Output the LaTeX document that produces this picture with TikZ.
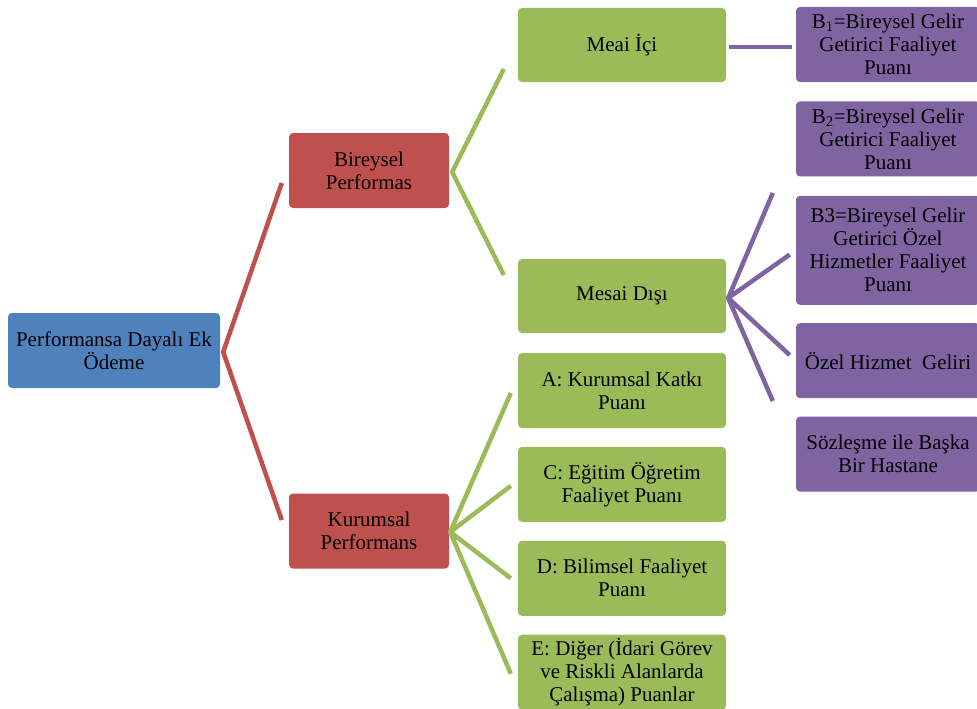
\documentclass[tikz,border=0pt]{standalone}
\usepackage{fontspec}
\setmainfont{Liberation Serif}
\usepackage{tikz}
\usetikzlibrary{calc}
\usetikzlibrary{positioning}

\definecolor{rootblue}{HTML}{4F81BD}
\definecolor{midred}{HTML}{C0504D}
\definecolor{leafgreen}{HTML}{9BBB59}
\definecolor{subpurple}{HTML}{8064A2}

\begin{document}
\begin{tikzpicture}[x=1pt, y=-1pt,
    box/.style={rectangle, rounded corners=4pt, inner sep=0pt, align=center, font=\fontsize{21}{23}\selectfont},
    rootbox/.style={box, fill=rootblue, minimum width=212pt, minimum height=75pt},
    midbox/.style={box, fill=midred, minimum width=160pt, minimum height=75pt},
    leafbox/.style={box, fill=leafgreen, minimum width=208pt, minimum height=75pt},
    subbox/.style={box, fill=subpurple, minimum width=184pt, minimum height=75pt},
    link/.style={line width=4.5pt, line join=round}]
    \useasboundingbox (0,0) rectangle (977,709);

    \node [rootbox] (root) at (114, 350.5) {Performansa Dayalı Ek\\Ödeme};
    \node [midbox] (bire) at (369, 170.5) {Bireysel\\Performas};
    \node [midbox] (kuru) at (369, 531) {Kurumsal\\Performans};

    \node [leafbox, minimum height=74pt] (meai) at (622, 45) {Meai İçi};
    \node [leafbox, minimum height=74pt] (mesai) at (622, 296) {Mesai Dışı};
    \node [leafbox] (ka) at (622, 390.5) {A: Kurumsal Katkı\\Puanı};
    \node [leafbox, below=18.5pt of ka] (kc) {C: Eğitim Öğretim\\Faaliyet Puanı};
    \node [leafbox, below=18.5pt of kc] (kd) {D: Bilimsel Faaliyet\\Puanı};
    \node [leafbox, below=18.5pt of kd] (ke) {E: Diğer (İdari Görev\\ve Riskli Alanlarda\\Çalışma) Puanlar};

    \node [subbox] (b1) at (888, 44.5) {B\textsubscript{1}=Bireysel Gelir\\Getirici Faaliyet\\Puanı};
    \node [subbox, below=19pt of b1] (b2) {B\textsubscript{2}=Bireysel Gelir\\Getirici Faaliyet\\Puanı};
    \node [subbox, below=19pt of b2, minimum height=109pt] (b3) {B3=Bireysel Gelir\\Getirici Özel\\Hizmetler Faaliyet\\Puanı};
    \node [subbox, below=18pt of b3] (oz) {Özel Hizmet\ \ Geliri};
    \node [subbox, below=18pt of oz] (soz) {Sözleşme ile Başka\\Bir Hastane};

    \coordinate (roothub) at ([xshift=3pt, yshift=-1.5pt]root.east);
    \coordinate (birehub) at ([xshift=3pt, yshift=-1.5pt]bire.east);
    \coordinate (kuruhub) at ([xshift=1pt, yshift=-1pt]kuru.east);
    \coordinate (mesaihub) at ([xshift=2pt, yshift=-2pt]mesai.east);

    \draw [link, midred] ([xshift=-7pt, yshift=-12.5pt]bire.west) -- (roothub) -- ([xshift=-7pt, yshift=11pt]kuru.west);
    \draw [link, leafgreen] ([xshift=-14pt, yshift=-24pt]meai.west) -- (birehub) -- ([xshift=-14pt, yshift=21pt]mesai.west);
    \draw [link, leafgreen] ([xshift=-7pt, yshift=-2.5pt]ka.west) -- (kuruhub) -- ([xshift=-7pt, yshift=-1.5pt]kc.west);
    \draw [link, leafgreen] ([xshift=-7pt]kd.west) -- (kuruhub) -- ([xshift=-7pt, yshift=-1.5pt]ke.west);
    \draw [link, subpurple] ([xshift=3pt, yshift=-2pt]meai.east) -- ([xshift=-4pt, yshift=-2.5pt]b1.west);
    \draw [link, subpurple] ($(mesaihub)!0.66!(b2.west)$) -- (mesaihub) -- ($(mesaihub)!0.91!(b3.west)$);
    \draw [link, subpurple] ($(mesaihub)!0.91!(oz.west)$) -- (mesaihub) -- ($(mesaihub)!0.66!(soz.west)$);
\end{tikzpicture}
\end{document}
